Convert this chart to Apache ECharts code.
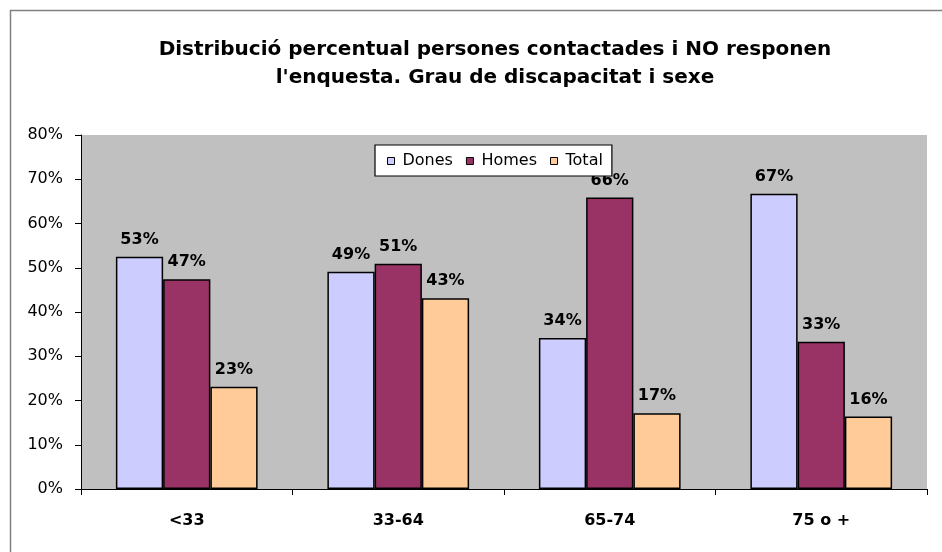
<!DOCTYPE html>
<html>
<head>
<meta charset="utf-8">
<script src="https://cdn.jsdelivr.net/npm/echarts@6/dist/echarts.min.js"></script>
<style>html,body{margin:0;padding:0;background:#fff}#c{width:942px;height:552px}</style>
</head>
<body>
<div id="c"></div>
<script>
var categories = ['<33', '33-64', '65-74', '75 o +'];
var seriesNames = ['Dones', 'Homes', 'Total'];
var dones = [52.5, 49.1, 34.1, 66.7];
var homes = [47.4, 50.9, 65.9, 33.3];
var total = [23.1, 43.1, 17.1, 16.4];
var yTicks = [0, 10, 20, 30, 40, 50, 60, 70, 80];
var colors = ['#ccccff', '#993366', '#ffcc99'];

var chart = echarts.init(document.getElementById('c'), null, {renderer: 'canvas'});
var font = 'DejaVu Sans, sans-serif';
function mkSeries(name, data, color) {
  return {
    name: name, type: 'bar', data: data,
    barGap: '0%', barCategoryGap: '33%',
    itemStyle: {color: color, borderColor: '#000', borderWidth: 1.5},
    label: {show: true, position: 'top', distance: 9, fontFamily: font, fontWeight: 'bold', fontSize: 16, color: '#000',
      formatter: function (p) { return Math.round(p.value) + '%'; }}
  };
}
chart.setOption({
  animation: false,
  backgroundColor: '#fff',
  graphic: [{type: 'rect', left: 8, top: 8, shape: {width: 1000, height: 1000}, style: {fill: 'none', stroke: '#808080', lineWidth: 1.5}, z: -10}],
  title: {
    text: "Distribució percentual persones contactades i NO responen\nl'enquesta. Grau de discapacitat i sexe",
    left: 490, top: 31, textAlign: 'center',
    textStyle: {fontFamily: font, fontWeight: 'bold', fontSize: 20, lineHeight: 28, color: '#000'}
  },
  legend: {
    data: seriesNames, left: 375, top: 145,
    backgroundColor: '#fff', borderColor: '#000', borderWidth: 1.2,
    padding: [8, 9, 7, 12], itemGap: 13, itemWidth: 7, itemHeight: 7,
    icon: 'rect', z: 10,
    itemStyle: {borderColor: '#000', borderWidth: 1},
    textStyle: {fontFamily: font, fontSize: 16, color: '#000', padding: [0, 0, 0, 3]}
  },
  grid: {left: 81, right: 15, top: 135, bottom: 63, backgroundColor: '#c0c0c0', show: true, borderWidth: 0},
  xAxis: {
    type: 'category', data: categories,
    axisLine: {lineStyle: {color: '#000', width: 1}},
    axisTick: {show: true, length: 6, lineStyle: {color: '#000'}},
    axisLabel: {fontFamily: font, fontWeight: 'bold', fontSize: 16, color: '#000', margin: 24}
  },
  yAxis: {
    type: 'value', min: 0, max: 80, interval: 10,
    splitLine: {show: false},
    axisLine: {show: true, lineStyle: {color: '#000', width: 1}},
    axisTick: {show: true, length: 6, lineStyle: {color: '#000'}},
    axisLabel: {fontFamily: font, fontSize: 16, color: '#000', margin: 18,
      formatter: function (v) { return yTicks.indexOf(v) >= 0 ? v + '%' : ''; }}
  },
  series: [mkSeries('Dones', dones, colors[0]), mkSeries('Homes', homes, colors[1]), mkSeries('Total', total, colors[2])]
});
</script>
</body>
</html>
